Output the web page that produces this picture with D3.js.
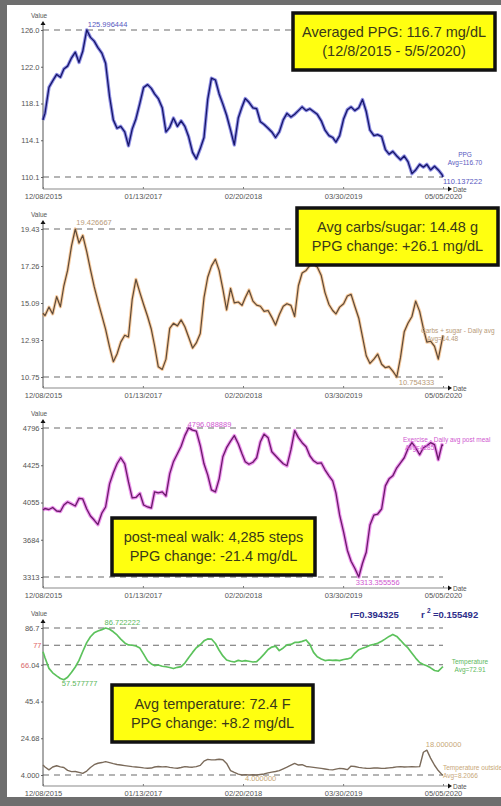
<!DOCTYPE html>
<html><head><meta charset="utf-8">
<script src="https://cdn.jsdelivr.net/npm/d3@7"></script>
<style>body{margin:0;background:#fff;} svg{display:block;font-family:"Liberation Sans",Arial,sans-serif;}</style>
</head><body><svg id="c" width="501" height="806"></svg>
<script>
const dates = ["2015-12-08","2015-12-16",
"2016-01-01","2016-01-16","2016-02-01","2016-02-16","2016-03-01","2016-03-16","2016-04-01","2016-04-16","2016-05-01","2016-05-16","2016-06-01","2016-06-16","2016-07-01","2016-07-16","2016-08-01","2016-08-16","2016-09-01","2016-09-16","2016-10-01","2016-10-16","2016-11-01","2016-11-16","2016-12-01","2016-12-16",
"2017-01-01","2017-01-16","2017-02-01","2017-02-16","2017-03-01","2017-03-16","2017-04-01","2017-04-16","2017-05-01","2017-05-16","2017-06-01","2017-06-16","2017-07-01","2017-07-16","2017-08-01","2017-08-16","2017-09-01","2017-09-16","2017-10-01","2017-10-16","2017-11-01","2017-11-16","2017-12-01","2017-12-16",
"2018-01-01","2018-01-16","2018-02-01","2018-02-16","2018-03-01","2018-03-16","2018-04-01","2018-04-16","2018-05-01","2018-05-16","2018-06-01","2018-06-16","2018-07-01","2018-07-16","2018-08-01","2018-08-16","2018-09-01","2018-09-16","2018-10-01","2018-10-16","2018-11-01","2018-11-16","2018-12-01","2018-12-16",
"2019-01-01","2019-01-16","2019-02-01","2019-02-16","2019-03-01","2019-03-16","2019-04-01","2019-04-16","2019-05-01","2019-05-16","2019-06-01","2019-06-16","2019-07-01","2019-07-16","2019-08-01","2019-08-16","2019-09-01","2019-09-16","2019-10-01","2019-10-16","2019-11-01","2019-11-16","2019-12-01","2019-12-16",
"2020-01-01","2020-01-16","2020-02-01","2020-02-16","2020-03-01","2020-03-16","2020-04-01","2020-04-16","2020-05-01","2020-05-05"];

const ppg = [116.3,117.0,119.8,120.5,121.2,120.9,121.8,122.1,123.0,123.6,122.5,123.7,
125.996444,125.2,124.8,124.1,123.5,122.4,118.8,116.3,115.4,115.6,115.0,113.5,
115.3,116.4,118.1,119.8,120.1,119.7,119.1,118.6,117.6,115.0,115.5,116.5,
115.6,116.2,115.6,114.5,112.8,112.1,113.2,114.4,118.5,120.8,120.6,119.1,
118.0,116.8,115.2,113.6,116.5,117.7,118.6,118.2,117.6,117.5,116.1,115.8,
115.4,115.0,114.4,115.0,116.3,117.0,116.6,116.9,117.3,117.7,117.3,117.5,
117.2,116.9,116.2,115.2,114.6,114.4,113.9,114.6,116.4,117.4,117.7,117.3,
117.6,118.5,117.2,115.2,114.6,114.7,114.5,113.1,112.6,112.9,112.4,112.0,
112.4,111.8,110.5,110.9,111.5,111.2,111.5,110.9,111.3,110.9,110.4,110.137222];

const carbs = [14.49,14.35,14.85,14.45,15.46,14.87,16.10,17.00,18.45,19.426667,18.60,19.05,
18.10,17.05,16.05,15.20,14.35,13.55,12.50,11.65,12.10,12.80,13.20,13.10,
15.30,16.48,15.70,15.00,14.30,13.55,12.60,11.35,11.20,11.80,13.60,13.90,
13.75,14.10,13.70,13.10,12.45,12.75,13.30,15.40,16.60,17.25,17.65,17.00,
15.90,14.68,15.95,15.10,15.15,14.95,15.40,15.85,15.20,14.97,14.90,14.60,
14.65,14.25,13.80,14.40,14.90,15.05,14.95,14.30,16.10,16.85,17.00,17.30,
17.35,17.20,16.70,15.70,15.00,14.65,14.45,14.85,15.05,15.50,15.60,14.90,
14.20,13.10,12.00,11.55,11.80,12.10,11.50,11.30,11.36,11.10,10.754333,11.90,
13.40,13.90,14.30,15.20,14.60,13.60,12.80,12.85,12.55,11.80,12.90,13.20];

const steps = [3980,3995,3985,4005,3970,3965,4030,4060,4040,4020,4096,4090,
3990,3920,3880,3835,3950,4010,4240,4350,4440,4500,4440,4260,
4100,4105,4146,4030,4010,4000,4160,4150,4160,4120,4340,4461,
4540,4615,4720,4796.088889,4775,4765,4620,4440,4330,4180,4160,4290,
4510,4600,4665,4720,4640,4540,4460,4435,4455,4500,4660,4735,
4700,4560,4520,4480,4440,4420,4580,4770,4700,4650,4610,4520,
4470,4445,4450,4380,4320,4270,4150,3930,3760,3580,3470,3400,
3313.355556,3450,3560,3831,3930,3940,3990,4220,4290,4320,4400,4450,
4500,4590,4650,4600,4530,4600,4620,4650,4630,4480,4630,4620];

const temperature = [73.4,70.0,64.0,61.5,59.8,58.3,57.577777,59.0,61.8,64.8,68.5,73.5,
78.5,81.8,84.0,85.0,85.8,86.722222,86.0,84.6,82.8,80.5,78.3,77.2,
77.0,76.6,75.4,72.0,68.2,66.5,65.6,65.9,65.2,64.9,64.5,63.9,
64.6,65.0,67.0,70.0,73.0,75.6,77.3,79.5,80.6,80.5,78.0,74.2,
71.0,68.7,68.0,67.6,68.5,68.0,68.4,68.0,67.6,67.8,69.8,72.0,
74.6,76.0,76.5,74.0,75.5,77.2,77.5,78.6,78.6,79.2,80.0,77.5,
73.0,70.5,69.3,68.4,68.7,68.5,68.6,68.4,69.0,69.3,70.0,72.5,
74.5,75.3,76.0,77.0,77.5,78.1,79.3,80.6,82.0,83.1,82.0,79.8,
77.5,75.5,72.5,69.8,67.3,66.2,65.5,64.3,62.8,62.4,64.5,65.0];

const outside = [9.6,8.5,6.9,8.5,9.2,8.6,8.2,6.6,5.9,6.0,5.5,4.9,
6.2,8.2,9.8,10.6,11.0,11.5,11.0,10.4,9.9,9.6,9.3,9.0,
8.7,8.5,8.3,8.0,7.8,7.9,8.5,8.8,8.6,8.7,8.3,8.0,
7.8,8.2,8.7,8.5,8.4,8.7,9.4,11.8,12.8,12.5,12.6,12.9,
12.6,10.5,6.5,5.5,4.5,4.0,4.2,4.0,4.1,4.0,4.3,4.6,
5.2,5.6,6.0,6.5,7.5,8.4,9.5,10.5,9.6,9.8,8.8,8.6,
8.3,8.0,7.7,7.4,7.0,6.9,7.3,7.7,7.5,7.0,9.0,8.8,
8.3,8.0,7.8,7.7,7.9,7.9,7.7,7.8,8.0,8.2,8.6,8.7,
8.5,8.6,8.7,8.6,8.7,16.8,18.0,13.5,9.5,6.5,4.2,4.0];

const xTickDates = ["2015-12-08","2017-01-13","2018-02-20","2019-03-30","2020-05-05"];
const xTickLabels = ["12/08/2015","01/13/2017","02/20/2018","03/30/2019","05/05/2020"];
const ppgTicks = [110.137222,114.102028,118.066833,122.031639,125.996444];
const ppgTickLabels = ["110.1","114.1","118.1","122.0","126.0"];
const carbsTicks = [10.754333,12.922417,15.0905,17.258584,19.426667];
const carbsTickLabels = ["10.75","12.93","15.09","17.26","19.43"];
const stepsTicks = [3313.355556,3684.038889,4054.722222,4425.405556,4796.088889];
const stepsTickLabels = ["3313","3684","4055","4425","4796"];
const tempTicks = [4.0,24.68,45.36,66.04,86.722222];
const tempTickLabels = ["4.000","24.68","45.4","66.04","86.7"];
const tempRefLines = [77, 66];
const tempRefLabels = ["77","66"];

const boxTexts = [
  ["Averaged PPG: 116.7 mg/dL","(12/8/2015 - 5/5/2020)"],
  ["Avg carbs/sugar: 14.48 g","PPG change: +26.1 mg/dL"],
  ["post-meal walk: 4,285 steps","PPG change: -21.4 mg/dL"],
  ["Avg temperature: 72.4 F","PPG change: +8.2 mg/dL"]
];
const legendTexts = [
  ["PPG","Avg=116.70"],
  ["Carbs + sugar - Daily avg","Avg=14.48"],
  ["Exercise - Daily avg post meal","Avg=4285"],
  ["Temperature","Avg=72.91"],
  ["Temperature outside","Avg=8.2066"]
];
const corrLabels = ["r=0.394325","=0.155492"];

// ---------- drawing ----------
const parse = d3.timeParse("%Y-%m-%d");
const D = dates.map(parse);
const svg = d3.select("#c");
svg.append("rect").attr("width",501).attr("height",806).attr("fill","#fff");

const x = d3.scaleTime().domain([D[0], D[D.length-1]]).range([43, 443]);

function drawPanel(cfg){
  const g = svg.append("g");
  const y = d3.scaleLinear().domain(cfg.domain).range([cfg.bottom, cfg.top]);
  cfg.dashes.forEach(v=>{
    g.append("line").attr("x1",43).attr("x2",443).attr("y1",y(v)).attr("y2",y(v))
     .attr("stroke","#6a6a6a").attr("stroke-width",1.1).attr("stroke-dasharray","6,5");
  });
  const ya = d3.axisLeft(y).tickValues(cfg.ticks).tickFormat((d,i)=>cfg.tickLabels[i]).tickSize(2).tickPadding(1.5);
  const yg = g.append("g").attr("transform","translate(43,0)").call(ya);
  yg.select(".domain").remove();
  yg.selectAll("text").attr("font-size",7.5).attr("fill","#555").attr("font-family","Liberation Sans, Arial, sans-serif");
  yg.selectAll("line").attr("stroke","#666");
  g.append("line").attr("x1",43).attr("x2",43).attr("y1",cfg.top-6).attr("y2",cfg.axisY).attr("stroke","#555").attr("stroke-width",1);
  g.append("path").attr("d",`M40.5,${cfg.top-5} L43,${cfg.top-9} L45.5,${cfg.top-5} Z`).attr("fill","#111");
  g.append("text").attr("x",31).attr("y",cfg.top-12).attr("font-size",6.5).attr("fill","#555").text("Value");
  const xa = d3.axisBottom(x).tickValues(xTickDates.map(parse)).tickFormat((d,i)=>xTickLabels[i]).tickSizeInner(-2).tickSizeOuter(0).tickPadding(5);
  const xg = g.append("g").attr("transform",`translate(0,${cfg.axisY})`).call(xa);
  xg.select(".domain").remove();
  xg.selectAll("text").attr("font-size",7.5).attr("fill","#555").attr("font-family","Liberation Sans, Arial, sans-serif");
  xg.selectAll("line").attr("stroke","#777");
  g.append("line").attr("x1",43).attr("x2",449).attr("y1",cfg.axisY).attr("y2",cfg.axisY).attr("stroke","#8a8a8a").attr("stroke-width",1.2);
  g.append("path").attr("d",`M448,${cfg.axisY-2.5} L452,${cfg.axisY} L448,${cfg.axisY+2.5} Z`).attr("fill","#111");
  g.append("text").attr("x",453).attr("y",cfg.axisY+3).attr("font-size",6.5).attr("fill","#555").text("Date");
  cfg.series.forEach(s=>{
    const line = d3.line().x((d,i)=>x(D[i])).y(d=>y(d));
    if (s.halo) g.append("path").attr("d",line(s.values)).attr("fill","none").attr("stroke",s.halo).attr("stroke-width",s.haloW||3.2).attr("stroke-opacity",0.55).attr("stroke-linejoin","round");
    g.append("path").attr("d",line(s.values)).attr("fill","none").attr("stroke",s.color).attr("stroke-width",s.width).attr("stroke-linejoin","round");
    const iMax = d3.maxIndex(s.values), iMin = d3.minIndex(s.values);
    if (s.maxLabel) g.append("text").attr("x",x(D[iMax])+s.maxLabel[0]).attr("y",y(s.values[iMax])+s.maxLabel[1]).attr("font-size",7.5).attr("fill",s.labelColor).text(s.values[iMax].toFixed(6));
    if (s.minLabel) g.append("text").attr("x",x(D[iMin])+s.minLabel[0]).attr("y",y(s.values[iMin])+s.minLabel[1]).attr("font-size",7.5).attr("fill",s.labelColor).text(s.values[iMin].toFixed(6));
    if (s.legend) {
      s.legend.lines.forEach((t,k)=>{
        g.append("text").attr("x",s.legend.x[k]).attr("y",s.legend.y+k*8).attr("font-size",6.5).attr("fill",s.labelColor)
          .attr("text-anchor",s.legend.anchor).text(t);
      });
    }
  });
  return {g,y,yg};
}

const p1 = drawPanel({domain:[110.137222,125.996444], top:30, bottom:177, axisY:189,
  ticks:ppgTicks, tickLabels:ppgTickLabels, dashes:[125.996444,110.137222],
  series:[{values:ppg,color:"#16166a",width:1.3,halo:"#3434d0",haloW:3.4,labelColor:"#5858c0",
    maxLabel:[1,-3],minLabel:[0,6.5],legend:{lines:legendTexts[0],x:[465,465],y:157,anchor:"middle"}}]});
const p2 = drawPanel({domain:[10.754333,19.426667], top:229, bottom:377, axisY:388,
  ticks:carbsTicks, tickLabels:carbsTickLabels, dashes:[19.426667,10.754333],
  series:[{values:carbs,color:"#5e4a38",width:1.2,halo:"#f0a050",haloW:3.2,labelColor:"#b89a78",
    maxLabel:[1,-4],minLabel:[2,8],legend:{lines:legendTexts[1],x:[421,427],y:333,anchor:"start"}}]});
const p3 = drawPanel({domain:[3313.355556,4796.088889], top:428, bottom:577, axisY:588,
  ticks:stepsTicks, tickLabels:stepsTickLabels, dashes:[4796.088889,3313.355556],
  series:[{values:steps,color:"#6a1a6a",width:1.3,halo:"#e040e0",haloW:3.6,labelColor:"#d058d0",
    maxLabel:[-1,-1.5],minLabel:[-3,7.5],legend:{lines:legendTexts[2],x:[403,405],y:442,anchor:"start"}}]});
const p4 = drawPanel({domain:[4.0,86.722222], top:628, bottom:775, axisY:786,
  ticks:tempTicks, tickLabels:tempTickLabels, dashes:[86.722222,77,66,4.0],
  series:[{values:temperature,color:"#5cc25c",width:1.7,labelColor:"#5cb85c",
      maxLabel:[-1,-3.5],minLabel:[-2,6.5],legend:{lines:legendTexts[3],x:[470,470],y:664,anchor:"middle"}},
    {values:outside,color:"#7a6a5a",width:1.4,labelColor:"#c8a878",
      maxLabel:[-1,-3],minLabel:[3,6],legend:{lines:legendTexts[4],x:[443,443],y:770,anchor:"start"}}]});

// temperature reference labels: "77" separate; "66" shares the tick label slot (coloured prefix)
p4.g.append("text").attr("x",41.5).attr("y",p4.y(tempRefLines[0])+2.5).attr("text-anchor","end").attr("font-size",7.5)
    .attr("fill","#e06868").text(tempRefLabels[0]);
p4.yg.selectAll(".tick text").filter((d,i)=>i===3).each(function(){
  const t = d3.select(this); const full = t.text(); t.text(null);
  t.append("tspan").attr("fill","#d86a6a").text(tempRefLabels[1]);
  t.append("tspan").attr("fill","#555").text(full.slice(tempRefLabels[1].length));
});

// correlation
p4.g.append("text").attr("x",350).attr("y",618).attr("font-size",9.5).attr("font-weight","bold").attr("fill","#2d2d8a").text(corrLabels[0]);
p4.g.append("text").attr("x",421).attr("y",618).attr("font-size",9.5).attr("font-weight","bold").attr("fill","#2d2d8a").text("r");
p4.g.append("text").attr("x",427).attr("y",613).attr("font-size",6.5).attr("font-weight","bold").attr("fill","#2d2d8a").text("2");
p4.g.append("text").attr("x",433).attr("y",618).attr("font-size",9.5).attr("font-weight","bold").attr("fill","#2d2d8a").text(corrLabels[1]);

// yellow boxes
const boxes = [[293,13,202,57],[297,208,201,57],[112,518,203,57],[112,685,201,57]];
boxes.forEach((b,i)=>{
  const g = svg.append("g");
  g.append("rect").attr("x",b[0]).attr("y",b[1]).attr("width",b[2]).attr("height",b[3])
    .attr("fill","#ffff10").attr("stroke","#111").attr("stroke-width",3.5);
  boxTexts[i].forEach((t,k)=>{
    g.append("text").attr("x",b[0]+b[2]/2).attr("y",b[1]+24+k*19).attr("text-anchor","middle")
      .attr("font-size",14.5).attr("fill","#3a3a18").text(t);
  });
});

// gray photo frame
svg.append("rect").attr("x",0).attr("y",0).attr("width",501).attr("height",5).attr("fill","#6e6e6e");
svg.append("rect").attr("x",0).attr("y",0).attr("width",7).attr("height",806).attr("fill","#6e6e6e");
svg.append("rect").attr("x",0).attr("y",797).attr("width",501).attr("height",9).attr("fill","#6e6e6e");
</script></body></html>
